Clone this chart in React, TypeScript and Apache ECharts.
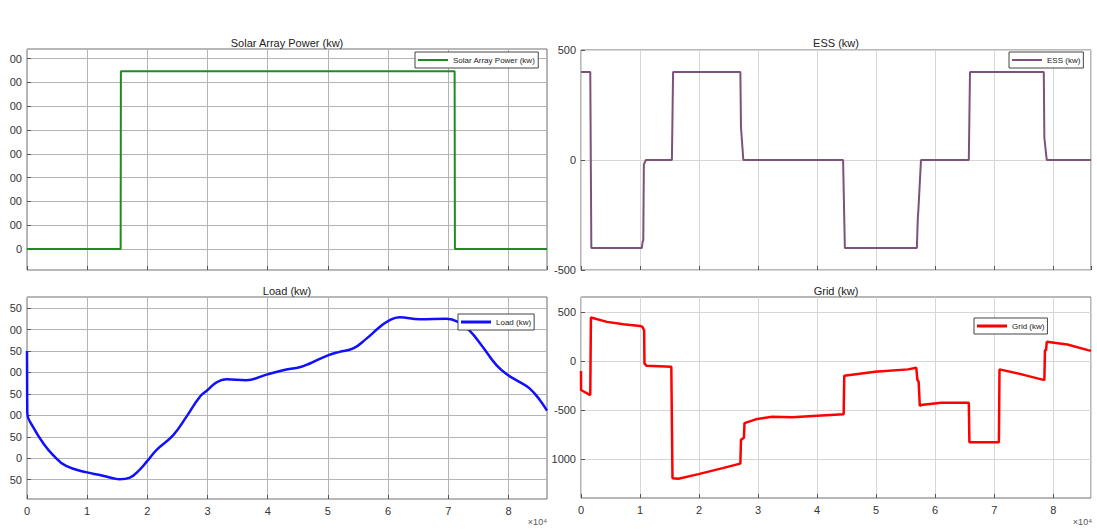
import React, { useEffect, useRef } from "react";
import * as echarts from "echarts";

const FONT = "'Liberation Sans', Arial, Helvetica, sans-serif";

// time axis (seconds)
const xTickLabels = ["0", "1", "2", "3", "4", "5", "6", "7", "8"];

// Solar Array Power (kw)
const solarT = [0, 15560, 15600, 71050, 71100, 86400];
const solarP = [0, 0, 747, 747, 0, 0];
const solarTickValues = [0, 100, 200, 300, 400, 500, 600, 700, 800];
const solarTickLabels = ["0", "00", "00", "00", "00", "00", "00", "00", "00"];

// ESS (kw)
const essT = [0, 1570, 1750, 10300, 10450, 10550, 10650, 11000, 15400, 15600, 27000, 27100, 27500, 44400, 44700, 56900, 57050, 57150, 57600, 65700, 65900, 78400, 78500, 78900, 86400];
const essP = [400, 400, -400, -400, -370, -365, -20, 0, 0, 400, 400, 150, 0, 0, -400, -400, -270, -230, 0, 0, 400, 400, 100, 0, 0];
const essTickValues = [-500, 0, 500];
const essTickLabels = ["-500", "0", "500"];

// Load (kw)
const loadT = [0, 50, 1000, 2700, 4300, 6500, 10000, 12100, 14300, 15400, 17100, 18700, 20000, 21500, 24300, 26500, 28700, 30000, 31500, 33100, 36400, 39800, 43100, 45300, 47000, 50000, 51900, 54200, 56400, 58600, 60000, 61900, 65200, 69700, 71600, 73500, 75700, 78000, 79900, 81800, 83500, 85200, 86400];
const loadP = [250, 105, 73, 35, 8, -18, -33, -39, -46.5, -49, -45, -27, -6, 19, 54, 97, 143, 159, 177, 184, 182, 195, 207, 212, 221, 240, 248, 256, 279, 306, 320, 329, 324, 325, 318, 298, 260, 217, 194, 178, 163, 136, 111];
const loadTickValues = [-50, 0, 50, 100, 150, 200, 250, 300, 350];
const loadTickLabels = ["50", "0", "50", "00", "50", "00", "50", "00", "50"];

// Grid (kw)
const gridT = [0, 10, 1570, 1680, 4400, 7200, 10000, 10400, 10700, 10750, 11100, 15300, 15500, 16500, 19900, 24000, 26800, 27000, 27100, 27600, 27700, 29600, 32400, 35800, 40000, 44500, 44600, 49800, 55400, 56800, 57000, 57200, 57400, 57600, 61000, 65700, 65800, 70800, 70900, 74500, 78500, 78600, 78800, 78900, 82400, 85900, 86400];
const gridP = [-100, -294, -345, 443, 399, 375, 358, 348, 314, -23, -48, -58, -1190, -1197, -1149, -1088, -1045, -1040, -801, -780, -630, -592, -565, -571, -555, -541, -149, -108, -84, -68, -193, -210, -456, -446, -423, -423, -825, -825, -84, -132, -193, 110, 115, 196, 169, 112, 104];
const gridTickValues = [-1000, -500, 0, 500];
const gridTickLabels = ["1000", "-500", "0", "500"];

const pairs = (t: number[], v: number[]) => t.map((x, i) => [x, v[i]]);
const labelOf = (vals: number[], labels: string[]) => (v: number) => {
  const i = vals.indexOf(v);
  return i >= 0 ? labels[i] : "";
};

export default function App() {
  const ref = useRef<HTMLDivElement>(null);
  useEffect(() => {
    document.body.style.margin = "0";
    const chart = echarts.init(ref.current!, null, { renderer: "svg" });

    const grids = [
      { left: 27, top: 49, width: 520, height: 221 },
      { left: 581, top: 50, width: 510, height: 220 },
      { left: 27, top: 297, width: 520, height: 202 },
      { left: 581, top: 297, width: 510, height: 201 },
    ];
    const leftSide = [true, false, true, false];

    const xAxes = grids.map((_, i) => ({
      type: "value",
      gridIndex: i,
      min: 0,
      max: 86400,
      interval: 10000,
      axisLine: { show: false, onZero: false },
      axisTick: { show: true, inside: true, length: 4, lineStyle: { color: "#555" } },
      axisLabel: {
        show: i >= 2,
        showMaxLabel: false,
        margin: 6,
        fontSize: 11,
        color: "#333",
        fontFamily: FONT,
        formatter: (v: number) => (v % 10000 === 0 ? xTickLabels[v / 10000] ?? "" : ""),
      },
      splitLine: { show: true, lineStyle: { color: leftSide[i] ? "#b4b4b4" : "#d6d6d6", width: 1 } },
    }));

    const yCfg = [
      { min: -88, max: 840, vals: solarTickValues, labels: solarTickLabels },
      { min: -500, max: 500, vals: essTickValues, labels: essTickLabels },
      { min: -95, max: 376, vals: loadTickValues, labels: loadTickLabels },
      { min: -1392, max: 652, vals: gridTickValues, labels: gridTickLabels },
    ];
    const yAxes = yCfg.map((c, i) => ({
      type: "value",
      gridIndex: i,
      min: c.min,
      max: c.max,
      axisLine: { show: false, onZero: false },
      axisTick: { show: true, inside: true, length: 4, customValues: c.vals, lineStyle: { color: "#555" } },
      axisLabel: {
        customValues: c.vals,
        margin: 5,
        fontSize: 11,
        color: "#333",
        fontFamily: FONT,
        formatter: labelOf(c.vals, c.labels),
      },
      splitLine: { show: true, lineStyle: { color: leftSide[i] ? "#b4b4b4" : "#d6d6d6", width: 1 } },
    }));

    const titles = [
      { text: "Solar Array Power (kw)", left: 287, top: 37 },
      { text: "ESS (kw)", left: 836, top: 37 },
      { text: "Load (kw)", left: 287, top: 285 },
      { text: "Grid (kw)", left: 836, top: 285 },
    ].map((t) => ({
      ...t,
      textAlign: "center",
      padding: 0,
      textStyle: { fontSize: 11, fontWeight: "normal", color: "#222", fontFamily: FONT },
    }));

    const names = ["Solar Array Power (kw)", "ESS (kw)", "Load (kw)", "Grid (kw)"];
    const legendPos = [
      { left: 415, top: 52 },
      { left: 1009, top: 52 },
      { left: 458, top: 314 },
      { left: 974, top: 318 },
    ];
    const iconH = [2, 2, 3, 3];
    const legends = names.map((n, i) => ({
      data: [{ name: n, icon: "rect" }],
      ...legendPos[i],
      orient: "horizontal",
      padding: [4, 3, 4, 3],
      itemWidth: 30,
      itemHeight: iconH[i],
      borderColor: "#444",
      borderWidth: 1,
      backgroundColor: "#fff",
      textStyle: { fontSize: 8, color: "#222", fontFamily: FONT },
    }));

    const colors = ["#1f8c1f", "#7d5179", "#1010ff", "#ff0000"];
    const widths = [2, 2, 2.5, 2.5];
    const datas = [pairs(solarT, solarP), pairs(essT, essP), pairs(loadT, loadP), pairs(gridT, gridP)];
    const series = names.map((n, i) => ({
      name: n,
      type: "line",
      xAxisIndex: i,
      yAxisIndex: i,
      data: datas[i],
      symbol: "none",
      smooth: i === 2 ? 0.45 : false,
      lineStyle: { color: colors[i], width: widths[i] },
      itemStyle: { color: colors[i] },
    }));

    chart.setOption({
      animation: false,
      backgroundColor: "#ffffff",
      textStyle: { fontFamily: FONT },
      title: titles,
      legend: legends,
      grid: grids.map((g) => ({ ...g, show: true, borderColor: "#707070", borderWidth: 1, containLabel: false })),
      xAxis: xAxes,
      yAxis: yAxes,
      series,
      graphic: [
        { type: "text", right: 1097 - 547, top: 517, style: { text: "×10⁴", fontSize: 9, fill: "#555", fontFamily: FONT } },
        { type: "text", right: 5, top: 517, style: { text: "×10⁴", fontSize: 9, fill: "#555", fontFamily: FONT } },
      ],
    });
    return () => chart.dispose();
  }, []);
  return <div ref={ref} style={{ width: 1097, height: 529 }} />;
}
